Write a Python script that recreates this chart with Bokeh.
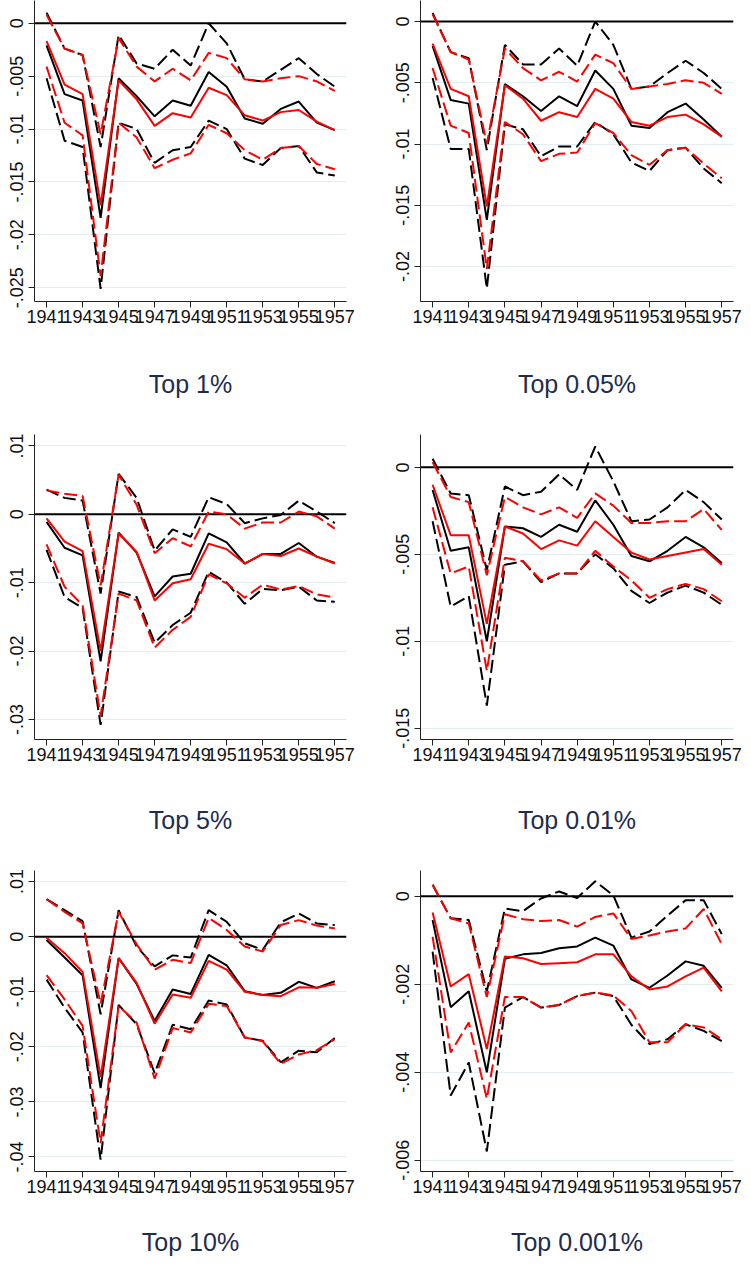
from bokeh.plotting import figure
from bokeh.layouts import gridplot
from bokeh.models import FixedTicker, Span, Range1d
from bokeh.embed import file_html
from bokeh.resources import INLINE

# ---------------- data ----------------
YEARS = list(range(1941, 1958))
X_TICKS = [1941, 1943, 1945, 1947, 1949, 1951, 1953, 1955, 1957]

# Top 1%
TOP1_B = [-0.0021, -0.0067, -0.0073, -0.0184, -0.0052, -0.0069, -0.0088, -0.0073, -0.0078, -0.0046, -0.0060, -0.0090, -0.0095, -0.0081, -0.0074, -0.0094, -0.0101]
TOP1_R = [-0.0017, -0.0058, -0.0067, -0.0172, -0.0054, -0.0072, -0.0097, -0.0085, -0.0089, -0.0061, -0.0068, -0.0087, -0.0092, -0.0084, -0.0082, -0.0093, -0.0101]
TOP1_BH = [0.0010, -0.0024, -0.0030, -0.0117, -0.0011, -0.0038, -0.0043, -0.0025, -0.0040, 0.0000, -0.0019, -0.0053, -0.0055, -0.0044, -0.0033, -0.0048, -0.0060]
TOP1_RH = [0.0008, -0.0024, -0.0030, -0.0105, -0.0014, -0.0041, -0.0055, -0.0043, -0.0054, -0.0028, -0.0033, -0.0053, -0.0055, -0.0052, -0.0050, -0.0055, -0.0064]
TOP1_BL = [-0.0052, -0.0111, -0.0117, -0.0251, -0.0094, -0.0100, -0.0132, -0.0120, -0.0117, -0.0092, -0.0100, -0.0128, -0.0134, -0.0118, -0.0116, -0.0141, -0.0144]
TOP1_RL = [-0.0041, -0.0094, -0.0106, -0.0239, -0.0094, -0.0108, -0.0137, -0.0129, -0.0123, -0.0096, -0.0104, -0.0120, -0.0129, -0.0118, -0.0116, -0.0133, -0.0138]
TOP1_YTICKS = [0, -0.005, -0.01, -0.015, -0.02, -0.025]
TOP1_YLABELS = ["0", "-.005", "-.01", "-.015", "-.02", "-.025"]

# Top 0.05%
TOP005_B = [-0.0020, -0.0064, -0.0067, -0.0162, -0.0051, -0.0061, -0.0073, -0.0061, -0.0069, -0.0040, -0.0055, -0.0085, -0.0087, -0.0074, -0.0067, -0.0080, -0.0094]
TOP005_R = [-0.0018, -0.0055, -0.0061, -0.0151, -0.0052, -0.0063, -0.0081, -0.0074, -0.0078, -0.0055, -0.0063, -0.0082, -0.0085, -0.0078, -0.0076, -0.0084, -0.0094]
TOP005_BH = [0.0007, -0.0025, -0.0030, -0.0105, -0.0019, -0.0035, -0.0035, -0.0022, -0.0036, 0.0000, -0.0019, -0.0055, -0.0053, -0.0042, -0.0032, -0.0042, -0.0055]
TOP005_RH = [0.0006, -0.0025, -0.0031, -0.0100, -0.0022, -0.0038, -0.0048, -0.0041, -0.0049, -0.0027, -0.0034, -0.0055, -0.0053, -0.0051, -0.0048, -0.0050, -0.0059]
TOP005_BL = [-0.0046, -0.0104, -0.0104, -0.0218, -0.0084, -0.0088, -0.0110, -0.0102, -0.0102, -0.0082, -0.0092, -0.0115, -0.0122, -0.0105, -0.0103, -0.0120, -0.0132]
TOP005_RL = [-0.0038, -0.0085, -0.0091, -0.0202, -0.0082, -0.0092, -0.0114, -0.0108, -0.0107, -0.0083, -0.0091, -0.0109, -0.0117, -0.0105, -0.0103, -0.0116, -0.0128]
TOP005_YTICKS = [0, -0.005, -0.01, -0.015, -0.02]
TOP005_YLABELS = ["0", "-.005", "-.01", "-.015", "-.02"]

# Top 5%
TOP5_B = [-0.0011, -0.0049, -0.0060, -0.0215, -0.0027, -0.0056, -0.0120, -0.0091, -0.0087, -0.0028, -0.0041, -0.0072, -0.0058, -0.0058, -0.0042, -0.0062, -0.0071]
TOP5_R = [-0.0006, -0.0040, -0.0054, -0.0200, -0.0028, -0.0055, -0.0126, -0.0101, -0.0095, -0.0043, -0.0051, -0.0072, -0.0058, -0.0061, -0.0050, -0.0062, -0.0072]
TOP5_BH = [0.0036, 0.0024, 0.0020, -0.0116, 0.0059, 0.0024, -0.0053, -0.0022, -0.0033, 0.0025, 0.0015, -0.0013, -0.0006, -0.0001, 0.0020, 0.0004, -0.0013]
TOP5_RH = [0.0035, 0.0030, 0.0027, -0.0104, 0.0058, 0.0014, -0.0057, -0.0035, -0.0047, 0.0004, 0.0000, -0.0021, -0.0012, -0.0012, 0.0004, -0.0003, -0.0021]
TOP5_BL = [-0.0052, -0.0121, -0.0137, -0.0308, -0.0113, -0.0121, -0.0188, -0.0162, -0.0144, -0.0084, -0.0100, -0.0131, -0.0109, -0.0111, -0.0106, -0.0126, -0.0128]
TOP5_RL = [-0.0044, -0.0106, -0.0133, -0.0295, -0.0116, -0.0126, -0.0195, -0.0169, -0.0150, -0.0088, -0.0101, -0.0122, -0.0103, -0.0110, -0.0105, -0.0117, -0.0122]
TOP5_YTICKS = [0.01, 0, -0.01, -0.02, -0.03]
TOP5_YLABELS = [".01", "0", "-.01", "-.02", "-.03"]

# Top 0.01%
TOP001_B = [-0.0013, -0.0048, -0.0046, -0.0100, -0.0034, -0.0035, -0.0040, -0.0033, -0.0037, -0.0019, -0.0033, -0.0051, -0.0054, -0.0048, -0.0040, -0.0046, -0.0055]
TOP001_R = [-0.0010, -0.0039, -0.0039, -0.0090, -0.0034, -0.0038, -0.0047, -0.0042, -0.0045, -0.0031, -0.0040, -0.0049, -0.0053, -0.0051, -0.0049, -0.0047, -0.0056]
TOP001_BH = [0.0005, -0.0015, -0.0016, -0.0059, -0.0011, -0.0016, -0.0014, -0.0004, -0.0013, 0.0012, -0.0008, -0.0031, -0.0030, -0.0023, -0.0013, -0.0020, -0.0030]
TOP001_RH = [0.0003, -0.0017, -0.0020, -0.0062, -0.0017, -0.0023, -0.0027, -0.0023, -0.0029, -0.0015, -0.0022, -0.0032, -0.0032, -0.0031, -0.0031, -0.0024, -0.0036]
TOP001_BL = [-0.0031, -0.0080, -0.0074, -0.0137, -0.0056, -0.0054, -0.0066, -0.0061, -0.0061, -0.0050, -0.0058, -0.0071, -0.0078, -0.0072, -0.0068, -0.0072, -0.0079]
TOP001_RL = [-0.0023, -0.0061, -0.0057, -0.0117, -0.0052, -0.0054, -0.0065, -0.0061, -0.0061, -0.0048, -0.0057, -0.0065, -0.0075, -0.0070, -0.0067, -0.0070, -0.0077]
TOP001_YTICKS = [0, -0.005, -0.01, -0.015]
TOP001_YLABELS = ["0", "-.005", "-.01", "-.015"]

# Top 10%
TOP10_B = [-0.0006, -0.0038, -0.0070, -0.0275, -0.0039, -0.0086, -0.0153, -0.0096, -0.0104, -0.0033, -0.0052, -0.0099, -0.0106, -0.0102, -0.0082, -0.0093, -0.0081]
TOP10_R = [-0.0002, -0.0030, -0.0064, -0.0255, -0.0039, -0.0084, -0.0158, -0.0105, -0.0111, -0.0044, -0.0060, -0.0100, -0.0106, -0.0108, -0.0092, -0.0093, -0.0086]
TOP10_BH = [0.0068, 0.0048, 0.0028, -0.0141, 0.0048, -0.0018, -0.0054, -0.0034, -0.0038, 0.0048, 0.0027, -0.0012, -0.0024, 0.0026, 0.0042, 0.0024, 0.0021]
TOP10_RH = [0.0068, 0.0045, 0.0024, -0.0122, 0.0045, -0.0014, -0.0060, -0.0042, -0.0048, 0.0034, 0.0012, -0.0018, -0.0027, 0.0021, 0.0030, 0.0020, 0.0015]
TOP10_BL = [-0.0078, -0.0129, -0.0174, -0.0405, -0.0124, -0.0159, -0.0248, -0.0160, -0.0168, -0.0116, -0.0123, -0.0183, -0.0189, -0.0228, -0.0207, -0.0210, -0.0184]
TOP10_RL = [-0.0070, -0.0114, -0.0162, -0.0375, -0.0126, -0.0156, -0.0258, -0.0166, -0.0174, -0.0122, -0.0126, -0.0183, -0.0190, -0.0231, -0.0214, -0.0206, -0.0186]
TOP10_YTICKS = [0.01, 0, -0.01, -0.02, -0.03, -0.04]
TOP10_YLABELS = [".01", "0", "-.01", "-.02", "-.03", "-.04"]

# Top 0.001%
TOP0001_B = [-0.00054, -0.00252, -0.00216, -0.00400, -0.00142, -0.00132, -0.00129, -0.00118, -0.00114, -0.00094, -0.00112, -0.00189, -0.00208, -0.00180, -0.00148, -0.00158, -0.00208]
TOP0001_R = [-0.00037, -0.00205, -0.00177, -0.00347, -0.00137, -0.00141, -0.00154, -0.00152, -0.00150, -0.00132, -0.00132, -0.00182, -0.00212, -0.00205, -0.00182, -0.00162, -0.00216]
TOP0001_BH = [0.00026, -0.00050, -0.00054, -0.00216, -0.00028, -0.00034, -0.00005, 0.00011, -0.00004, 0.00034, 0.00002, -0.00094, -0.00080, -0.00044, -0.00009, -0.00009, -0.00086]
TOP0001_RH = [0.00026, -0.00050, -0.00062, -0.00229, -0.00041, -0.00052, -0.00056, -0.00054, -0.00069, -0.00047, -0.00039, -0.00097, -0.00089, -0.00080, -0.00073, -0.00029, -0.00109]
TOP0001_BL = [-0.00126, -0.00453, -0.00378, -0.00580, -0.00253, -0.00229, -0.00253, -0.00247, -0.00227, -0.00219, -0.00227, -0.00292, -0.00336, -0.00325, -0.00291, -0.00306, -0.00329]
TOP0001_RL = [-0.00092, -0.00355, -0.00287, -0.00460, -0.00229, -0.00229, -0.00253, -0.00247, -0.00227, -0.00219, -0.00225, -0.00261, -0.00332, -0.00332, -0.00291, -0.00298, -0.00325]
TOP0001_YTICKS = [0, -0.002, -0.004, -0.006]
TOP0001_YLABELS = ["0", "-.002", "-.004", "-.006"]

TITLES = ["Top 1%", "Top 0.05%", "Top 5%", "Top 0.01%", "Top 10%", "Top 0.001%"]

PANELS = [
    (TITLES[0], TOP1_B, TOP1_R, TOP1_BH, TOP1_RH, TOP1_BL, TOP1_RL, TOP1_YTICKS, TOP1_YLABELS),
    (TITLES[1], TOP005_B, TOP005_R, TOP005_BH, TOP005_RH, TOP005_BL, TOP005_RL, TOP005_YTICKS, TOP005_YLABELS),
    (TITLES[2], TOP5_B, TOP5_R, TOP5_BH, TOP5_RH, TOP5_BL, TOP5_RL, TOP5_YTICKS, TOP5_YLABELS),
    (TITLES[3], TOP001_B, TOP001_R, TOP001_BH, TOP001_RH, TOP001_BL, TOP001_RL, TOP001_YTICKS, TOP001_YLABELS),
    (TITLES[4], TOP10_B, TOP10_R, TOP10_BH, TOP10_RH, TOP10_BL, TOP10_RL, TOP10_YTICKS, TOP10_YLABELS),
    (TITLES[5], TOP0001_B, TOP0001_R, TOP0001_BH, TOP0001_RH, TOP0001_BL, TOP0001_RL, TOP0001_YTICKS, TOP0001_YLABELS),
]

# ---------------- layout / style ----------------
Y_RANGES = [(-0.0263, 0.00215), (-0.02286, 0.00172), (-0.03294, 0.01167),
            (-0.01565, 0.00189), (-0.04264, 0.01201), (-0.006256, 0.000586)]
ROW_H = [412, 424, 422]
ROW_TOP = [0, 22, 34]
ROW_FRAME_H = [301, 305, 302]
COL_W = [367, 376]
COL_LEFT = [34, 53]
COL_RIGHT = [21, 10]

FONT = "Liberation Sans"
RED = "#ff0000"
BLACK = "#000000"
DASH = "13 5"
TITLE_COLOR = "#1e2c4f"
TITLE_STANDOFF = [44, 42, 32]

figs = []
for i, (title, b, r, bh, rh, bl, rl, yticks, ylabels) in enumerate(PANELS):
    row, col = divmod(i, 2)
    h = ROW_H[row]
    bt = ROW_TOP[row]
    bb = h - bt - ROW_FRAME_H[row]
    p = figure(width=COL_W[col], height=h, output_backend="svg", toolbar_location=None,
               x_range=Range1d(1940.33, 1957.65), y_range=Range1d(*Y_RANGES[i]),
               min_border_left=COL_LEFT[col], min_border_right=COL_RIGHT[col],
               min_border_top=bt, min_border_bottom=bb)
    p.outline_line_color = None
    p.background_fill_color = "white"
    p.border_fill_color = "white"

    p.xgrid.visible = False
    p.ygrid.ticker = FixedTicker(ticks=yticks)
    p.ygrid.grid_line_color = "#e4eef0"
    p.ygrid.grid_line_width = 1

    p.xaxis.ticker = FixedTicker(ticks=X_TICKS)
    p.yaxis.ticker = FixedTicker(ticks=yticks)
    p.yaxis.major_label_overrides = {t: lab for t, lab in zip(yticks, ylabels)}
    p.yaxis.major_label_orientation = "vertical"

    for ax in (p.xaxis, p.yaxis):
        ax.axis_line_color = "#222222"
        ax.axis_line_width = 1
        ax.major_tick_line_color = "#222222"
        ax.major_tick_out = 6
        ax.major_tick_in = 0
        ax.minor_tick_line_color = None
        ax.major_label_text_font = FONT
        ax.major_label_text_font_size = "18px"
        ax.major_label_text_color = "#111111"
    p.xaxis.major_label_standoff = 2
    p.yaxis.major_label_standoff = 5

    p.xaxis.axis_label = title
    p.xaxis.axis_label_text_font = FONT
    p.xaxis.axis_label_text_font_size = "25px"
    p.xaxis.axis_label_text_font_style = "normal"
    p.xaxis.axis_label_text_color = TITLE_COLOR
    p.xaxis.axis_label_standoff = TITLE_STANDOFF[row]

    p.add_layout(Span(location=0, dimension="width", line_color=BLACK, line_width=2, level="underlay"))

    p.line(YEARS, bh, line_color=BLACK, line_width=2, line_dash=DASH)
    p.line(YEARS, bl, line_color=BLACK, line_width=2, line_dash=DASH)
    p.line(YEARS, rh, line_color=RED, line_width=2, line_dash=DASH)
    p.line(YEARS, rl, line_color=RED, line_width=2, line_dash=DASH)
    p.line(YEARS, b, line_color=BLACK, line_width=2)
    p.line(YEARS, r, line_color=RED, line_width=2)
    figs.append(p)

grid = gridplot([[figs[0], figs[1]], [figs[2], figs[3]], [figs[4], figs[5]]],
                toolbar_location=None)

open("out.html", "w").write(file_html(grid, INLINE))
